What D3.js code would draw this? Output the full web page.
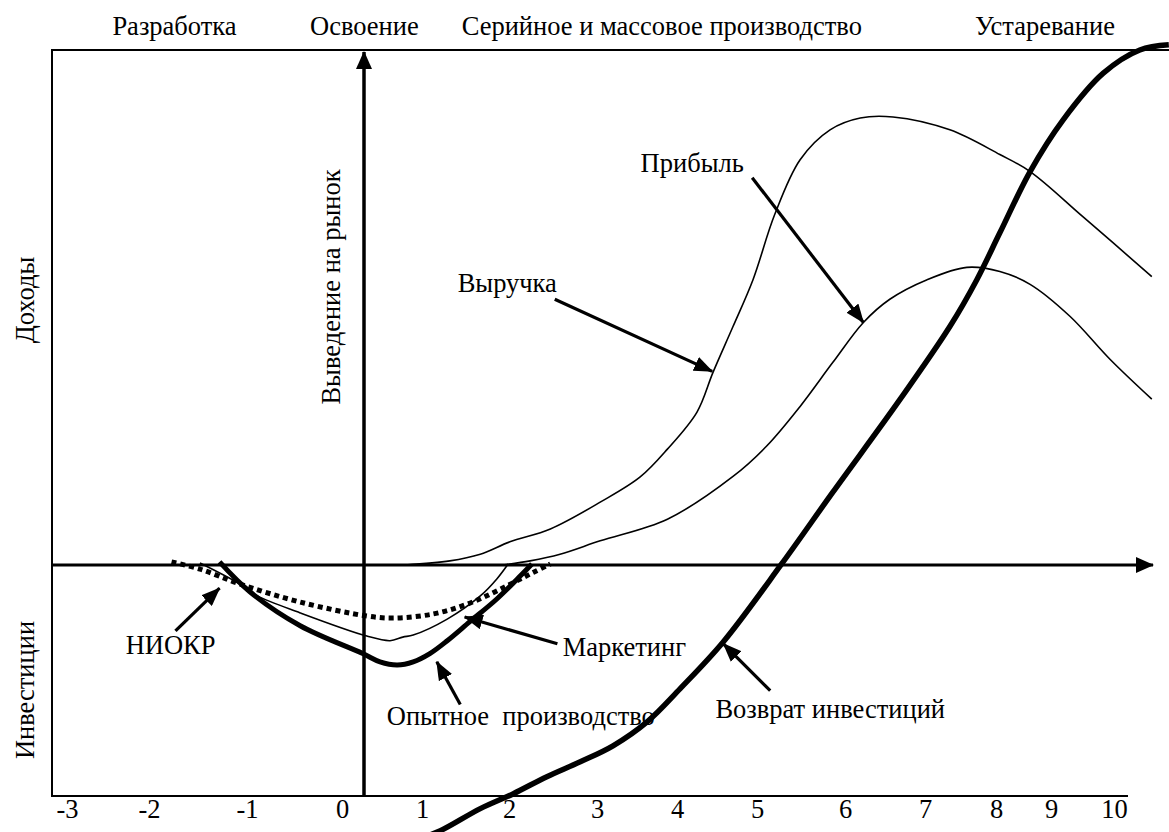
<!DOCTYPE html>
<html><head><meta charset="utf-8">
<script src="https://cdn.jsdelivr.net/npm/d3@7"></script>
<style>
body{margin:0;background:#fff}
svg{display:block}
text{font-family:"Liberation Serif","Times New Roman",serif;fill:#000}
</style>
</head><body><svg id="c" width="1169" height="832"></svg>
<script>
// ---------- DATA ----------
const xTicks = [-3,-2,-1,0,1,2,3,4,5,6,7,8,9,10];
const phaseLabels = ["Разработка","Освоение","Серийное и массовое производство","Устаревание"];
const phaseX = [-1.74,0.28,3.81,8.89];

// upper thin curve (pointed at by "Выручка")
const revenueX = [0.79,1.32,1.67,2.01,2.47,3.04,3.54,3.88,4.25,4.45,4.7,4.95,5.2,5.49,5.83,6.19,6.6,7.35,8.07,8.62,9.51,10.6];
const revenueY = [0,0.08,0.21,0.45,0.7,1.22,1.71,2.25,2.97,3.74,4.63,5.54,6.8,7.87,8.45,8.68,8.7,8.45,7.97,7.64,6.76,5.6];

// lower thin curve (pointed at by "Прибыль")
const profitX = [1.93,2.24,2.58,3.04,3.88,4.7,5.11,5.49,5.86,6.23,6.56,7.03,7.59,8.07,8.62,9.3,9.94,10.6];
const profitY = [0,0.08,0.21,0.47,0.89,1.72,2.31,3.08,3.93,4.71,5.16,5.54,5.78,5.7,5.45,4.83,3.99,3.22];

// thick curve "Возврат инвестиций"
const returnX = [0.975,1.21,1.67,2.05,2.43,2.81,3.2,3.63,4.04,4.58,5.28,5.86,6.69,7.35,7.73,8.07,8.62,9.19,9.83,10.41,10.87];
const returnY = [-5.31,-5.16,-4.73,-4.44,-4.11,-3.82,-3.51,-3.04,-2.4,-1.49,0.02,1.41,3.22,4.63,5.54,6.45,7.64,8.64,9.55,10.0,10.1];

// dotted "НИОКР"
const rdX = [-1.77,-1.48,-1.07,-0.44,0.31,0.64,1.13,1.52,1.9,2.28,2.47];
const rdY = [0.06,-0.08,-0.37,-0.72,-0.99,-1.03,-0.95,-0.76,-0.47,-0.14,0.02];

// thin "Маркетинг"
const mktX = [-1.48,-1.07,-0.89,-0.44,0.31,0.6,0.76,0.89,1.29,1.67,1.86,1.99];
const mktY = [0.04,-0.37,-0.6,-0.93,-1.38,-1.47,-1.4,-1.36,-1.05,-0.6,-0.27,0.02];

// thick "Опытное производство"
const pilotX = [-1.28,-0.97,-0.44,0.26,0.475,0.69,0.89,1.09,1.29,1.55,1.86,2.13,2.26];
const pilotY = [0.06,-0.52,-1.18,-1.72,-1.88,-1.94,-1.88,-1.72,-1.47,-1.1,-0.66,-0.21,0.02];

// annotations: label, label x/y, anchor, arrow tail, arrow tip (data units)
const noteLabels = ["Прибыль","Выручка","НИОКР","Маркетинг","Опытное  производство","Возврат инвестиций"];
const noteTextX  = [4.19,1.98,-1.78,2.61,0.56,4.48];
const noteTextY  = [7.81,5.48,-1.55,-1.59,-2.93,-2.80];
const noteAnchor = ["middle","middle","middle","start","start","start"];
const noteTailX  = [4.94,2.52,-1.73,2.55,1.44,5.15];
const noteTailY  = [7.52,5.16,-1.28,-1.53,-2.71,-2.44];
const noteTipX   = [6.23,4.44,-1.28,1.49,1.17,4.58];
const noteTipY   = [4.71,3.76,-0.45,-1.01,-1.88,-1.53];

// ---------- LAYOUT ----------
const W = 1169, H = 832;
const frameL = 52, frameT = 50, frameB = 796, axisRight = 1153, bottomRight = 1128;
const tickPx = [67,149,247,342,422,509,597,677,757,845,925,996,1051,1114];
const x = d3.scaleLinear().domain(xTicks).range(tickPx);
const y = d3.scaleLinear().domain([0,10]).range([565,50]);
const FS = 26.5;
const FF = '"Liberation Serif","Times New Roman",serif';

const svg = d3.select("#c");
const defs = svg.append("defs");
defs.append("marker").attr("id","ah").attr("markerUnits","userSpaceOnUse")
  .attr("viewBox","0 0 19 15").attr("markerWidth",19).attr("markerHeight",15)
  .attr("refX",18).attr("refY",7.5).attr("orient","auto")
  .append("path").attr("d","M0,0 L19,7.5 L0,15 Z").attr("fill","#000");
defs.append("marker").attr("id","axh").attr("markerUnits","userSpaceOnUse")
  .attr("viewBox","0 0 18 16").attr("markerWidth",18).attr("markerHeight",16)
  .attr("refX",17).attr("refY",8).attr("orient","auto")
  .append("path").attr("d","M0,0 L18,8 L0,16 Z").attr("fill","#000");

// frame
svg.append("line").attr("x1",frameL).attr("x2",W).attr("y1",frameT).attr("y2",frameT)
  .attr("stroke","#000").attr("stroke-width",2.2);
svg.append("line").attr("x1",frameL).attr("x2",frameL).attr("y1",frameT-1).attr("y2",frameB+1)
  .attr("stroke","#000").attr("stroke-width",2);
svg.append("line").attr("x1",frameL).attr("x2",bottomRight).attr("y1",frameB).attr("y2",frameB)
  .attr("stroke","#000").attr("stroke-width",2);

// axes with arrows
svg.append("line").attr("x1",frameL).attr("x2",axisRight).attr("y1",y(0)).attr("y2",y(0))
  .attr("stroke","#000").attr("stroke-width",3.2).attr("marker-end","url(#axh)");
const x0 = 364;
svg.append("line").attr("x1",x0).attr("x2",x0).attr("y1",frameB).attr("y2",frameT+2)
  .attr("stroke","#000").attr("stroke-width",3.5).attr("marker-end","url(#axh)");

// tick labels
const xAxis = d3.axisBottom(x).tickValues(xTicks).tickSize(0).tickPadding(0).tickFormat(d3.format("d"));
const gx = svg.append("g").attr("transform",`translate(0,${frameB+3})`).call(xAxis);
gx.attr("font-family",FF).attr("font-size",FS);
gx.select(".domain").remove();
gx.selectAll("text").attr("font-size",FS).attr("fill","#000")
  .text(d=> d<0 ? "-"+Math.abs(d) : d);

// phase labels
svg.selectAll("text.phase").data(phaseLabels).join("text").attr("class","phase")
  .attr("x",(d,i)=>x(phaseX[i])).attr("y",35).attr("text-anchor","middle")
  .attr("font-size",FS).text(d=>d);

// rotated labels
function vtext(t,cx,cy){
  svg.append("text").attr("transform",`translate(${cx},${cy}) rotate(-90)`)
    .attr("text-anchor","middle").attr("dominant-baseline","central").attr("font-size",FS).text(t);
}
vtext("Доходы",25,300);
vtext("Инвестиции",25,690);
vtext("Выведение на рынок",331,287);

// curves
const zip = (xs,ys)=>xs.map((v,i)=>[v,ys[i]]);
const line = d3.line().x(d=>x(d[0])).y(d=>y(d[1])).curve(d3.curveCatmullRom.alpha(0.5));
function curve(xs,ys,w,dash){
  const p = svg.append("path").attr("d",line(zip(xs,ys))).attr("fill","none")
    .attr("stroke","#000").attr("stroke-width",w).attr("stroke-linejoin","round");
  if(dash) p.attr("stroke-dasharray",dash);
  return p;
}
curve(mktX,mktY,1.6);
curve(rdX,rdY,5,"5,4");
curve(pilotX,pilotY,5);
curve(revenueX,revenueY,1.6);
curve(profitX,profitY,1.6);
curve(returnX,returnY,5.5);

// annotations
noteLabels.forEach((t,i)=>{
  svg.append("line").attr("x1",x(noteTailX[i])).attr("y1",y(noteTailY[i]))
    .attr("x2",x(noteTipX[i])).attr("y2",y(noteTipY[i]))
    .attr("stroke","#000").attr("stroke-width",3.2).attr("marker-end","url(#ah)");
  svg.append("text").attr("x",x(noteTextX[i])).attr("y",y(noteTextY[i]))
    .attr("text-anchor",noteAnchor[i]).attr("dominant-baseline","central")
    .attr("font-size",FS).style("white-space","pre").text(t);
});
</script>
</body></html>
